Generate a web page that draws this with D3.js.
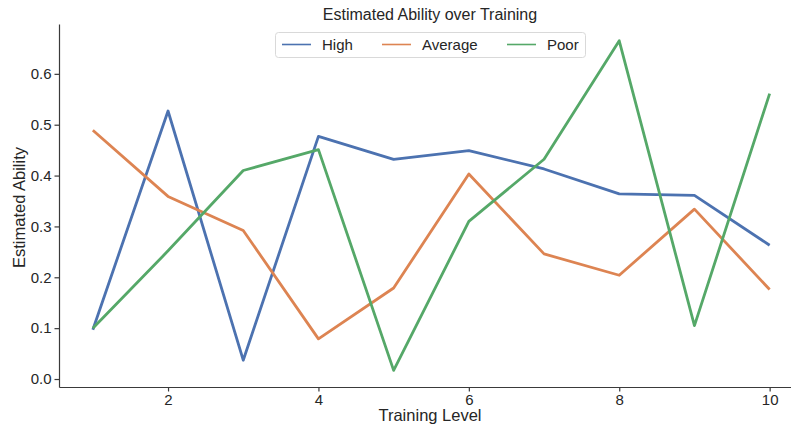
<!DOCTYPE html>
<html>
<head>
<meta charset="utf-8">
<script src="https://cdn.jsdelivr.net/npm/d3@7"></script>
<style>
  body { margin: 0; background: #fff; }
  svg { font-family: "Liberation Sans", Arial, sans-serif; }
</style>
</head>
<body>
<div id="chart"></div>
<script>
const levels = [1, 2, 3, 4, 5, 6, 7, 8, 9, 10]
const high = [0.097, 0.527, 0.037, 0.477, 0.432, 0.449, 0.413, 0.364, 0.361, 0.263]
const average = [0.489, 0.359, 0.292, 0.079, 0.179, 0.403, 0.246, 0.204, 0.334, 0.176]
const poor = [0.100, 0.252, 0.410, 0.451, 0.017, 0.310, 0.432, 0.665, 0.105, 0.561]
const seriesNames = ["High", "Average", "Poor"]
const xTicks = [2, 4, 6, 8, 10]
const yTicks = [0.0, 0.1, 0.2, 0.3, 0.4, 0.5, 0.6]

const colors = ["#4c72b0", "#dd8452", "#55a868"]
const series = [high, average, poor].map((vals, i) => ({
  name: seriesNames[i],
  color: colors[i],
  values: vals.map((v, j) => ({ x: levels[j], y: v })),
}))

const width = 791
const height = 425
const margin = { top: 24, left: 59, bottom: 38 }

const xScale = d3.scaleLinear()
  .domain([0.55, 10.45])
  .range([margin.left, margin.left + 9.9 * 75.2])
const yScale = d3.scaleLinear()
  .domain([-0.0157, 0.698])
  .range([height - margin.bottom, margin.top])

const svg = d3.select("#chart")
  .append("svg")
    .attr("width", width)
    .attr("height", height)

const textColor = "#262626"
const axisColor = "#3a3a3a"

// x axis
const xAxis = svg.append("g")
  .attr("transform", `translate(0, ${height - margin.bottom})`)
  .call(d3.axisBottom(xScale).tickValues(xTicks).tickSize(4.5).tickPadding(2.5).tickSizeOuter(0))
xAxis.select(".domain").attr("stroke", axisColor).attr("stroke-width", 1.2)
xAxis.selectAll(".tick line").attr("stroke", axisColor).attr("stroke-width", 1.2)
xAxis.selectAll(".tick text")
  .attr("fill", textColor)
  .style("font-size", "15px")
  .style("font-family", "'Liberation Sans', Arial, sans-serif")

// y axis
const yAxis = svg.append("g")
  .attr("transform", `translate(${margin.left}, 0)`)
  .call(d3.axisLeft(yScale).tickValues(yTicks).tickFormat(d3.format(".1f")).tickSize(4.5).tickPadding(3).tickSizeOuter(0))
yAxis.select(".domain").attr("stroke", axisColor).attr("stroke-width", 1.2)
yAxis.selectAll(".tick line").attr("stroke", axisColor).attr("stroke-width", 1.2)
yAxis.selectAll(".tick text")
  .attr("fill", textColor)
  .style("font-size", "15px")
  .style("font-family", "'Liberation Sans', Arial, sans-serif")

// lines
const line = d3.line()
  .x(d => xScale(d.x))
  .y(d => yScale(d.y))

svg.append("g")
  .selectAll("path")
  .data(series)
  .join("path")
    .attr("fill", "none")
    .attr("stroke", d => d.color)
    .attr("stroke-width", 2.8)
    .attr("stroke-linejoin", "round")
    .attr("d", d => line(d.values))

// title and labels
svg.append("text")
  .attr("x", 430)
  .attr("y", 20)
  .attr("text-anchor", "middle")
  .attr("fill", textColor)
  .style("font-size", "16px")
  .text("Estimated Ability over Training")

svg.append("text")
  .attr("x", 430)
  .attr("y", 421)
  .attr("text-anchor", "middle")
  .attr("fill", textColor)
  .style("font-size", "16.5px")
  .text("Training Level")

svg.append("text")
  .attr("transform", `translate(25, 207.5) rotate(-90)`)
  .attr("text-anchor", "middle")
  .attr("fill", textColor)
  .style("font-size", "16.5px")
  .text("Estimated Ability")

// legend
svg.append("rect")
  .attr("x", 275.5)
  .attr("y", 32.5)
  .attr("width", 310)
  .attr("height", 25)
  .attr("rx", 3)
  .attr("fill", "#fff")
  .attr("stroke", "#d9d9d9")
  .attr("stroke-width", 1)

const legendX = [282, 382, 507]
const items = svg.append("g")
  .selectAll("g")
  .data(series)
  .join("g")
    .attr("transform", (d, i) => `translate(${legendX[i]}, 44.5)`)
items.append("line")
  .attr("x1", 0)
  .attr("x2", 29)
  .attr("stroke", d => d.color)
  .attr("stroke-width", 1.6)
items.append("text")
  .attr("x", 40)
  .attr("y", 5.5)
  .attr("fill", textColor)
  .style("font-size", "15px")
  .text(d => d.name)
</script>
</body>
</html>
